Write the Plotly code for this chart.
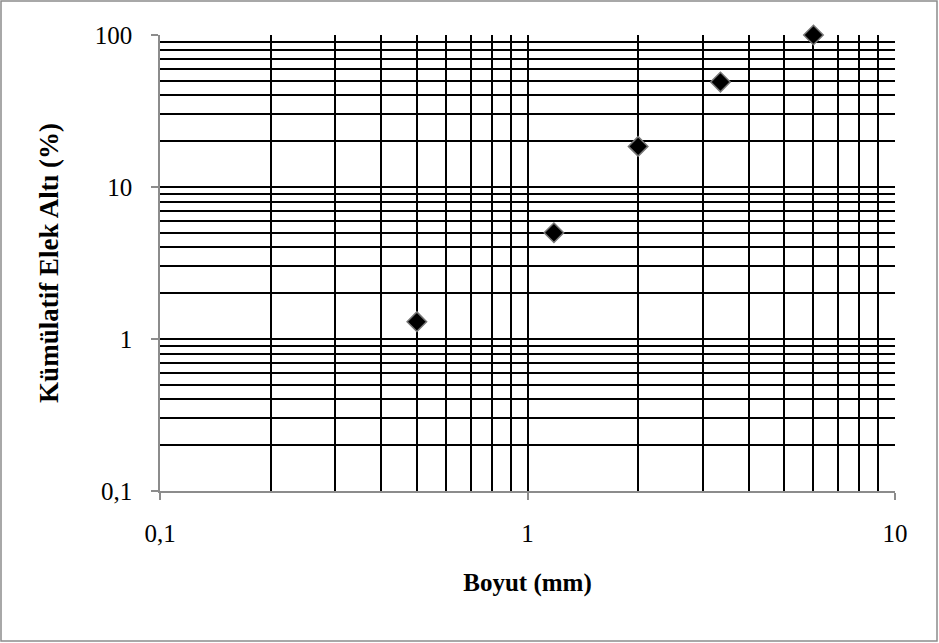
import plotly.graph_objects as go

# Sieve analysis: cumulative passing vs particle size
boyut_mm = [0.5, 1.18, 2.0, 3.35, 6.0]
kumulatif_elek_alti = [1.3, 5.0, 18.5, 49.0, 100.0]

x_major = [0.1, 1, 10]
y_major = [0.1, 1, 10, 100]
x_minor = [m * 10 ** e for e in (-1, 0) for m in range(2, 10)]
y_minor = [m * 10 ** e for e in (-1, 0, 1) for m in range(2, 10)]

W, H = 939, 643
L, R, T, B = 160, 44, 35, 152
pw, ph = W - L - R, H - T - B
FS = 25

fig = go.Figure()
fig.add_trace(go.Scatter(
    x=boyut_mm, y=kumulatif_elek_alti, mode="markers",
    marker=dict(symbol="diamond", size=15, color="black",
                line=dict(color="#777777", width=1.5)),
    cliponaxis=False, showlegend=False,
))

axis_common = dict(
    type="log", showline=True, linecolor="#8c8c8c", linewidth=1.5,
    ticks="outside", ticklen=7, tickcolor="#8c8c8c", tickwidth=1.5,
    showgrid=True, gridcolor="black", gridwidth=1.5, zeroline=False,
    tickfont=dict(family="Liberation Serif", size=FS, color="black"),
    mirror=False,
)

fig.update_xaxes(
    **axis_common, range=[-1, 1], tickvals=x_major, ticklabelstandoff=12,
    minor=dict(tickvals=x_minor, showgrid=True, gridcolor="black",
               gridwidth=1.5, ticks=""),
    title=dict(text="<b>Boyut (mm)</b>", standoff=28,
               font=dict(family="Liberation Serif", size=FS, color="black")),
)
fig.update_yaxes(
    **axis_common, range=[-1, 2], tickvals=y_major, ticklabelstandoff=14,
    minor=dict(tickvals=y_minor, showgrid=True, gridcolor="black",
               gridwidth=1.5, ticks=""),
    title=dict(text="<b>Kümülatif Elek Altı (%)</b>", standoff=28,
               font=dict(family="Liberation Serif", size=27, color="black")),
)

# outer frame of the chart
fig.add_shape(type="rect", xref="paper", yref="paper",
              x0=(1 - L) / pw, x1=(W - 2 - L) / pw,
              y0=(H - B - (H - 2)) / ph, y1=(H - B - 1) / ph,
              line=dict(color="#8c8c8c", width=1.5), layer="below")

fig.update_layout(
    width=W, height=H, separators=", ",
    margin=dict(l=L, r=R, t=T, b=B),
    paper_bgcolor="white", plot_bgcolor="white",
    font=dict(family="Liberation Serif", color="black"),
)
fig.write_html("out.html")
